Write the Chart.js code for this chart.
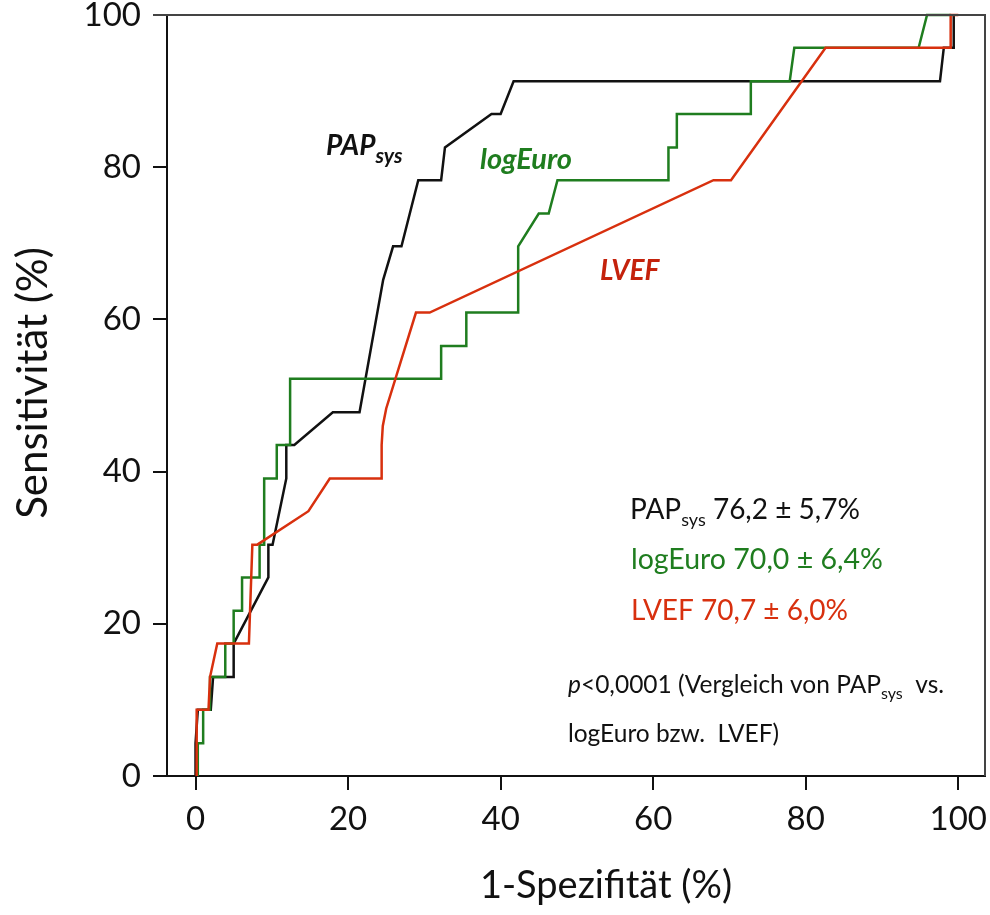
<!DOCTYPE html>
<html>
<head>
<meta charset="utf-8">
<script src="https://cdn.jsdelivr.net/npm/chart.js@4.4.1/dist/chart.umd.min.js"></script>
<style>
  body { margin: 0; background: #fff; }
  #wrap { width: 990px; height: 915px; }
</style>
</head>
<body>
<div id="wrap"><canvas id="RocChart"></canvas></div>
<script>
// ROC curves (x = 1-Spezifitaet, y = Sensitivitaet, both in %)
var xTicks = [0, 20, 40, 60, 80, 100];
var yTicks = [0, 20, 40, 60, 80, 100];

var papX = [0, 0, 0.3, 2.0, 2.3, 5.0, 5.0, 9.55, 9.55, 10.1, 11.9, 11.9, 12.95, 18.0, 21.5, 24.6, 25.9, 27.0, 29.2, 32.2, 32.7, 38.8, 40.0, 41.7, 97.6, 98.1, 99.4, 99.4];
var papY = [0, 4.3, 8.7, 8.7, 13.0, 13.0, 17.4, 26.1, 30.4, 30.4, 39.1, 43.5, 43.5, 47.8, 47.8, 65.2, 69.6, 69.6, 78.3, 78.3, 82.6, 87.0, 87.0, 91.3, 91.3, 95.7, 95.7, 100];

var euroX = [0.3, 0.3, 1.0, 1.0, 1.9, 1.9, 3.9, 3.9, 5.0, 5.0, 6.1, 6.1, 8.4, 8.4, 9.0, 9.0, 10.65, 10.65, 12.4, 12.4, 32.2, 32.2, 35.5, 35.5, 42.3, 42.3, 45.0, 46.3, 47.45, 62.0, 62.0, 63.1, 63.1, 72.8, 72.8, 77.9, 78.5, 94.8, 95.9, 99.0];
var euroY = [0, 4.3, 4.3, 8.7, 8.7, 13.0, 13.0, 17.4, 17.4, 21.7, 21.7, 26.1, 26.1, 30.4, 30.4, 39.1, 39.1, 43.5, 43.5, 52.2, 52.2, 56.5, 56.5, 60.9, 60.9, 69.6, 73.9, 73.9, 78.3, 78.3, 82.6, 82.6, 87.0, 87.0, 91.3, 91.3, 95.7, 95.7, 100, 100];

var lvefX = [0.15, 0.15, 1.7, 1.9, 2.85, 7.0, 7.45, 8.1, 14.8, 17.6, 24.4, 24.4, 24.55, 25.0, 28.9, 30.7, 67.9, 70.2, 82.6, 99.0, 99.0, 100];
var lvefY = [0, 8.7, 8.7, 13.0, 17.4, 17.4, 30.4, 30.4, 34.8, 39.1, 39.1, 43.5, 46.0, 48.3, 60.9, 60.9, 78.3, 78.3, 95.7, 95.7, 100, 100];

var BLACK = '#111111';
var GREEN = '#1f7d1f';
var RED = '#d8300e';
var FONT = 'Lato, "Open Sans", sans-serif';

function toPoints(xs, ys) {
    return xs.map(function (x, i) { return { x: x, y: ys[i] }; });
}

// draw a line of text made of several parts (normal / subscript)
function drawParts(ctx, parts, x, y) {
    parts.forEach(function (p) {
        ctx.font = p.font;
        ctx.fillStyle = p.color;
        ctx.fillText(p.text, x, y + (p.dy || 0));
        x += ctx.measureText(p.text).width;
    });
}

// frame, axis titles and text annotations
var textPlugin = {
    id: 'rocText',
    afterDraw: function (chart) {
        var ctx = chart.ctx;
        var a = chart.chartArea;
        ctx.save();

        // top and right border of the box
        ctx.strokeStyle = '#444';
        ctx.lineWidth = 2;
        ctx.beginPath();
        ctx.moveTo(a.left - 14, a.top);
        ctx.lineTo(a.right, a.top);
        ctx.lineTo(a.right, a.bottom);
        ctx.stroke();

        ctx.textBaseline = 'alphabetic';
        ctx.textAlign = 'left';

        // curve labels
        drawParts(ctx, [
            { text: 'PAP', font: 'italic bold 28px ' + FONT, color: BLACK },
            { text: 'sys', font: 'italic bold 21px ' + FONT, color: BLACK, dy: 8 }
        ], 326, 155);
        drawParts(ctx, [{ text: 'logEuro', font: 'italic bold 29px ' + FONT, color: GREEN }], 480, 169);
        drawParts(ctx, [{ text: 'LVEF', font: 'italic bold 28px ' + FONT, color: '#c4220c' }], 600, 280);

        // AUC values
        drawParts(ctx, [
            { text: 'PAP', font: '28px ' + FONT, color: BLACK },
            { text: 'sys', font: '18px ' + FONT, color: BLACK, dy: 7 },
            { text: ' 76,2 \u00b1 5,7%', font: '28px ' + FONT, color: BLACK }
        ], 630, 519);
        drawParts(ctx, [{ text: 'logEuro 70,0 \u00b1 6,4%', font: '28.5px ' + FONT, color: GREEN }], 631, 569);
        drawParts(ctx, [{ text: 'LVEF 70,7 \u00b1 6,0%', font: '28px ' + FONT, color: RED }], 631, 620);

        drawParts(ctx, [
            { text: 'p', font: 'italic 24.5px ' + FONT, color: BLACK },
            { text: '<0,0001 (Vergleich von PAP', font: '24.5px ' + FONT, color: BLACK },
            { text: 'sys', font: '16px ' + FONT, color: BLACK, dy: 6 },
            { text: '  vs.', font: '24.5px ' + FONT, color: BLACK }
        ], 568, 693);
        drawParts(ctx, [{ text: 'logEuro bzw.  LVEF)', font: '24.5px ' + FONT, color: BLACK }], 568, 742);

        // axis titles
        ctx.fillStyle = BLACK;
        ctx.textAlign = 'center';
        ctx.textBaseline = 'middle';
        ctx.font = '38px ' + FONT;
        ctx.fillText('1-Spezifit\u00e4t (%)', 606, 886);
        ctx.font = '42px ' + FONT;
        ctx.translate(33, 383);
        ctx.rotate(-Math.PI / 2);
        ctx.fillText('Sensitivit\u00e4t (%)', 0, 0);

        ctx.restore();
    }
};

function lineSet(label, xs, ys, color, order) {
    return {
        label: label,
        data: toPoints(xs, ys),
        borderColor: color,
        backgroundColor: color,
        borderWidth: 2.5,
        pointRadius: 0,
        tension: 0,
        fill: false,
        clip: 6,
        order: order
    };
}

var ctx = document.getElementById('RocChart').getContext('2d');
var chart = new Chart(ctx, {
    type: 'line',
    data: {
        datasets: [
            lineSet('PAPsys', papX, papY, BLACK, 3),
            lineSet('logEuro', euroX, euroY, GREEN, 2),
            lineSet('LVEF', lvefX, lvefY, RED, 1)
        ]
    },
    options: {
        responsive: true,
        maintainAspectRatio: false,
        animation: false,
        layout: { padding: { top: 15, right: 5, left: 0, bottom: 0 } },
        plugins: {
            legend: { display: false },
            tooltip: { enabled: false }
        },
        scales: {
            x: {
                type: 'linear',
                min: -3.74,
                max: 103.5,
                afterBuildTicks: function (scale) {
                    scale.ticks = xTicks.map(function (v) { return { value: v }; });
                },
                afterFit: function (scale) {
                    scale.height = 139;
                    scale.paddingLeft = 0;
                    scale.paddingRight = 0;
                },
                grid: { drawOnChartArea: false, drawTicks: true, tickLength: 14, color: BLACK, lineWidth: 2 },
                border: { display: true, color: BLACK, width: 2 },
                ticks: { color: BLACK, padding: 10, font: { family: FONT, size: 33 } }
            },
            y: {
                type: 'linear',
                min: 0,
                max: 100,
                afterBuildTicks: function (scale) {
                    scale.ticks = yTicks.map(function (v) { return { value: v }; });
                },
                afterFit: function (scale) {
                    scale.width = 167;
                    scale.paddingTop = 0;
                    scale.paddingBottom = 0;
                },
                grid: { drawOnChartArea: false, drawTicks: true, tickLength: 14, color: BLACK, lineWidth: 2 },
                border: { display: true, color: BLACK, width: 2 },
                ticks: { color: BLACK, padding: 12, font: { family: FONT, size: 33 } }
            }
        }
    },
    plugins: [textPlugin]
});
</script>
</body>
</html>
